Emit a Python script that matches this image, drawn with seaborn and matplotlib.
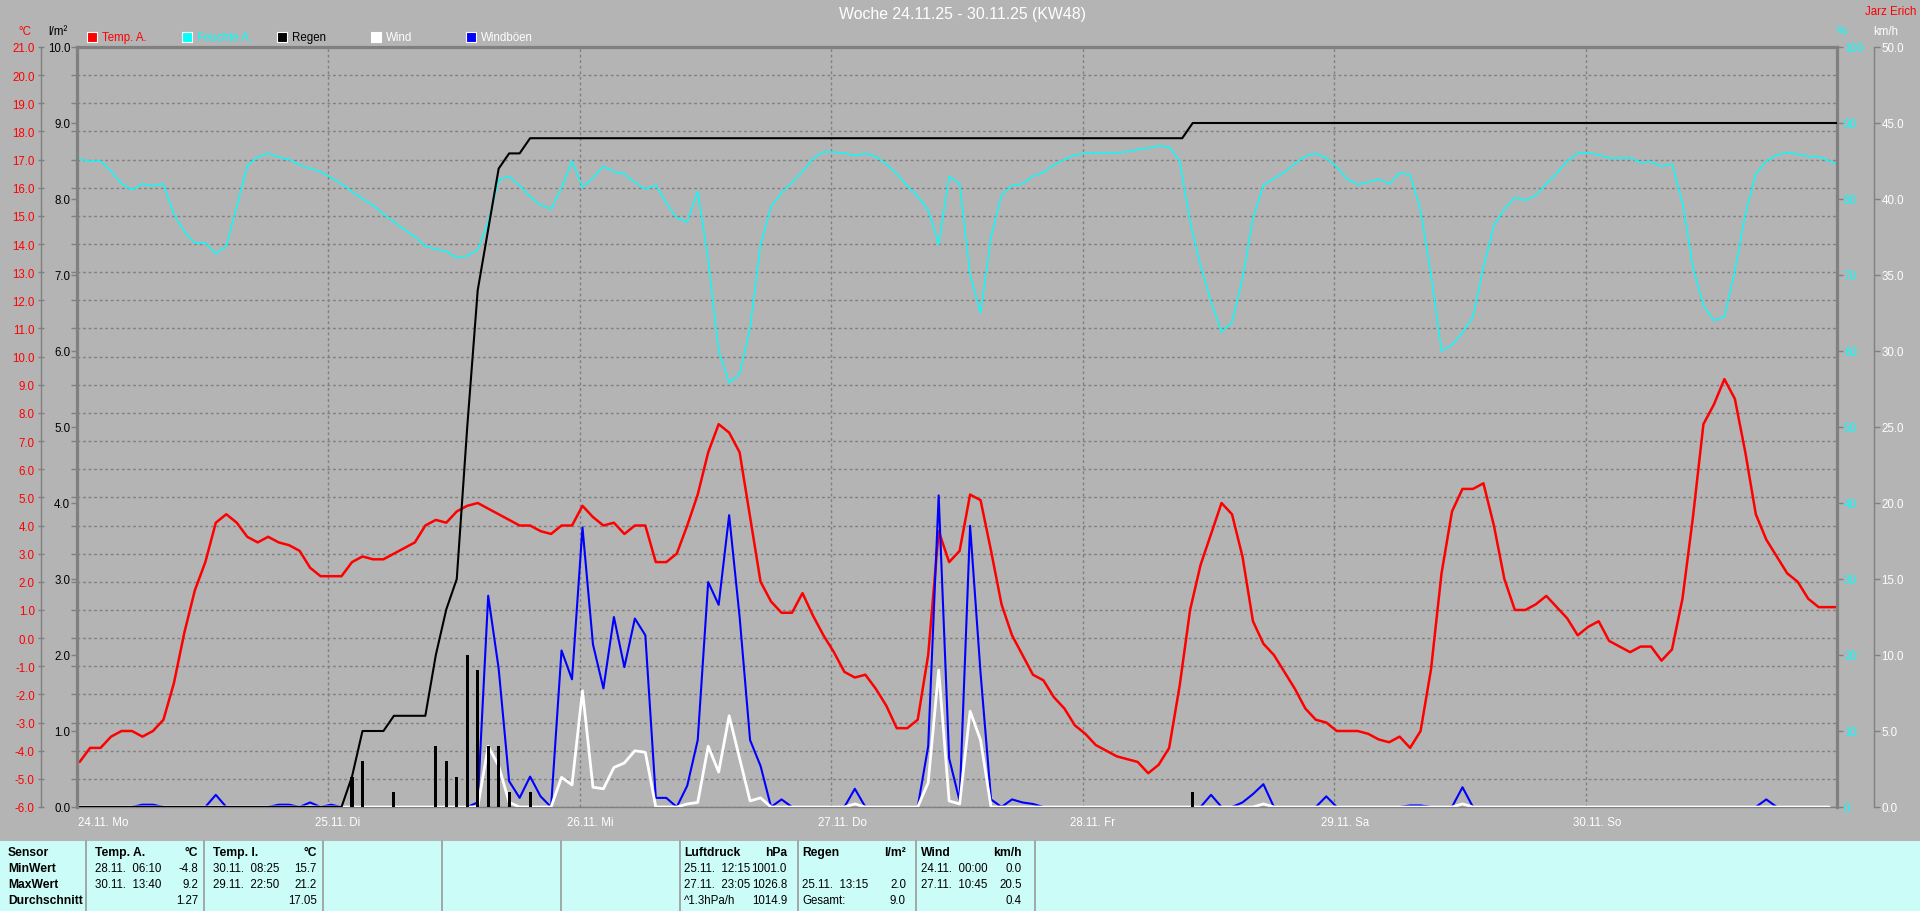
import numpy as np
import matplotlib
matplotlib.use("Agg")
import matplotlib.pyplot as plt
import matplotlib.transforms as mtransforms
from matplotlib.patches import Rectangle
from matplotlib.lines import Line2D
from matplotlib.ticker import MultipleLocator, FixedLocator, FuncFormatter
import seaborn as sns

# ---------------- data ----------------
TITLE = "Woche 24.11.25 - 30.11.25 (KW48)"
OWNER = "Jarz Erich"
DAY_LABELS = ["24.11. Mo", "25.11. Di", "26.11. Mi", "27.11. Do", "28.11. Fr", "29.11. Sa", "30.11. So"]
LEGEND_NAMES = ["Temp. A.", "Feuchte A.", "Regen", "Wind", "Windböen"]

# hourly values, first sample 24.11. 00:15
TEMP_A = [
    -4.4, -3.9, -3.9, -3.5, -3.3, -3.3, -3.5, -3.3, -2.9, -1.6, 0.2, 1.7, 2.7, 4.1, 4.4, 4.1, 3.6, 3.4, 3.6, 3.4, 3.3, 3.1, 2.5, 2.2,
    2.2, 2.2, 2.7, 2.9, 2.8, 2.8, 3.0, 3.2, 3.4, 4.0, 4.2, 4.1, 4.5, 4.7, 4.8, 4.6, 4.4, 4.2, 4.0, 4.0, 3.8, 3.7, 4.0, 4.0,
    4.7, 4.3, 4.0, 4.1, 3.7, 4.0, 4.0, 2.7, 2.7, 3.0, 4.0, 5.1, 6.6, 7.6, 7.3, 6.6, 4.3, 2.0, 1.3, 0.9, 0.9, 1.6, 0.8, 0.1,
    -0.5, -1.2, -1.4, -1.3, -1.8, -2.4, -3.2, -3.2, -2.9, -0.6, 3.8, 2.7, 3.1, 5.1, 4.9, 3.1, 1.2, 0.1, -0.6, -1.3, -1.5, -2.1, -2.5, -3.1,
    -3.4, -3.8, -4.0, -4.2, -4.3, -4.4, -4.8, -4.5, -3.9, -1.7, 1.0, 2.6, 3.7, 4.8, 4.4, 2.9, 0.6, -0.2, -0.6, -1.2, -1.8, -2.5, -2.9, -3.0,
    -3.3, -3.3, -3.3, -3.4, -3.6, -3.7, -3.5, -3.9, -3.3, -1.1, 2.3, 4.5, 5.3, 5.3, 5.5, 4.0, 2.1, 1.0, 1.0, 1.2, 1.5, 1.1, 0.7, 0.1,
    0.4, 0.6, -0.1, -0.3, -0.5, -0.3, -0.3, -0.8, -0.4, 1.4, 4.3, 7.6, 8.3, 9.2, 8.5, 6.6, 4.4, 3.5, 2.9, 2.3, 2.0, 1.4, 1.1, 1.1, 1.1,
]
HUMID_A = [
    85.2, 85.0, 85.0, 83.7, 82.0, 81.2, 82.0, 81.7, 82.0, 78.0, 75.7, 74.2, 74.2, 72.8, 73.8, 79.0, 84.4, 85.5, 86.0, 85.5, 85.2, 84.5, 84.0, 83.6,
    82.8, 82.0, 81.0, 80.0, 79.2, 78.0, 77.0, 76.0, 75.0, 73.8, 73.4, 73.1, 72.3, 72.5, 73.3, 77.0, 82.5, 83.0, 81.8, 80.3, 79.2, 78.7, 81.5, 85.0,
    81.5, 82.8, 84.3, 83.6, 83.3, 82.2, 81.3, 81.8, 79.5, 77.5, 77.0, 81.0, 72.0, 60.0, 55.8, 57.0, 63.0, 74.0, 79.0, 80.8, 82.2, 83.6, 85.3, 86.2,
    86.2, 86.0, 85.7, 86.0, 85.6, 84.6, 83.3, 81.7, 80.4, 78.5, 74.0, 83.0, 82.0, 70.0, 65.0, 75.0, 80.5, 81.8, 82.0, 83.0, 83.5, 84.5, 85.2, 85.8,
    86.0, 86.0, 86.0, 86.1, 86.2, 86.5, 86.7, 87.0, 86.9, 85.0, 77.0, 71.2, 66.5, 62.5, 63.8, 69.5, 77.5, 81.8, 82.7, 83.5, 84.7, 85.6, 86.0, 85.4,
    84.2, 82.6, 81.9, 82.2, 82.6, 82.0, 83.4, 83.2, 78.5, 70.0, 60.0, 60.8, 62.4, 64.5, 71.0, 76.5, 78.7, 80.2, 79.8, 80.5, 82.0, 83.4, 85.0, 86.0,
    86.1, 85.8, 85.4, 85.4, 85.4, 84.8, 84.9, 84.3, 84.6, 79.5, 71.0, 66.0, 64.0, 64.5, 70.5, 78.0, 83.3, 85.0, 85.8, 86.1, 85.9, 85.6, 85.6, 85.0, 84.5,
]
GUST = [
    0, 0, 0, 0, 0, 0, 0.15, 0.15, 0, 0, 0, 0, 0, 0.8, 0, 0, 0, 0, 0, 0.15, 0.15, 0, 0.3, 0,
    0.15, 0, 0, 0, 0, 0, 0, 0, 0, 0, 0, 0, 0, 0, 0.3, 13.9, 9.1, 1.7, 0.6, 2.0, 0.7, 0, 10.3, 8.4,
    18.4, 10.7, 7.8, 12.5, 9.2, 12.4, 11.3, 0.6, 0.6, 0, 1.4, 4.4, 14.8, 13.3, 19.2, 12.5, 4.4, 2.7, 0, 0.5, 0, 0, 0, 0,
    0, 0, 1.2, 0, 0, 0, 0, 0, 0, 4.0, 20.5, 3.2, 0.4, 18.5, 8.8, 0.5, 0, 0.5, 0.3, 0.2, 0, 0, 0, 0,
    0, 0, 0, 0, 0, 0, 0, 0, 0, 0, 0, 0, 0.8, 0, 0, 0.3, 0.85, 1.5, 0, 0, 0, 0, 0, 0.7,
    0, 0, 0, 0, 0, 0, 0, 0.1, 0.1, 0, 0, 0, 1.3, 0, 0, 0, 0, 0, 0, 0, 0, 0, 0, 0,
    0, 0, 0, 0, 0, 0, 0, 0, 0, 0, 0, 0, 0, 0, 0, 0, 0, 0.5, 0, 0, 0, 0, 0, 0,
]
WIND = [
    0, 0, 0, 0, 0, 0, 0, 0, 0, 0, 0, 0, 0, 0, 0, 0, 0, 0, 0, 0, 0, 0, 0, 0,
    0, 0, 0, 0, 0, 0, 0, 0, 0, 0, 0, 0, 0, 0, 0, 4.0, 2.7, 0.3, 0, 0, 0, 0, 1.95, 1.45,
    7.65, 1.3, 1.2, 2.6, 2.9, 3.7, 3.6, 0, 0, 0, 0.2, 0.3, 4.0, 2.3, 6.0, 3.2, 0.4, 0.6, 0, 0, 0, 0, 0, 0,
    0, 0, 0.2, 0, 0, 0, 0, 0, 0, 1.6, 9.0, 0.4, 0.2, 6.3, 4.4, 0, 0, 0, 0, 0, 0, 0, 0, 0,
    0, 0, 0, 0, 0, 0, 0, 0, 0, 0, 0, 0, 0, 0, 0, 0, 0, 0.2, 0, 0, 0, 0, 0, 0,
    0, 0, 0, 0, 0, 0, 0, 0, 0, 0, 0, 0, 0.2, 0, 0, 0, 0, 0, 0, 0, 0, 0, 0, 0,
    0, 0, 0, 0, 0, 0, 0, 0, 0, 0, 0, 0, 0, 0, 0, 0, 0, 0, 0, 0, 0, 0, 0, 0,
]
# rain per interval (l/m²) and cumulative rain, times in hours since 24.11. 00:00
RAIN_BAR_H = [26.25, 27.25, 30.25, 34.25, 35.25, 36.25, 37.25, 38.25, 39.25, 40.25, 41.25, 43.25, 106.5]
RAIN_BAR_V = [0.4, 0.6, 0.2, 0.8, 0.6, 0.4, 2.0, 1.8, 0.8, 0.8, 0.2, 0.2, 0.2]
RAIN_SUM_H = [0, 25.25, 26.25, 27.25, 29.25, 30.25, 33.25, 34.25, 35.25, 36.25, 37.25, 38.25, 39.25, 40.25,
              41.25, 42.25, 43.25, 105.5, 106.5, 168]
RAIN_SUM_V = [0, 0, 0.4, 1.0, 1.0, 1.2, 1.2, 2.0, 2.6, 3.0, 5.0, 6.8, 7.6, 8.4, 8.6, 8.6, 8.8, 8.8, 9.0, 9.0]

TABLE_ROWNAMES = ["Sensor", "MinWert", "MaxWert", "Durchschnitt"]
TABLE_COLS = [
    ("Temp. A.", "°C", [("28.11.  06:10", "-4.8"), ("30.11.  13:40", "9.2"), ("", "1.27")]),
    ("Temp. I.", "°C", [("30.11.  08:25", "15.7"), ("29.11.  22:50", "21.2"), ("", "17.05")]),
    ("Luftdruck", "hPa", [("25.11.  12:15", "1001.0"), ("27.11.  23:05", "1026.8"), ("^1.3hPa/h", "1014.9")]),
    ("Regen", "l/m²", [("", ""), ("25.11.  13:15", "2.0"), ("Gesamt:", "9.0")]),
    ("Wind", "km/h", [("24.11.  00:00", "0.0"), ("27.11.  10:45", "20.5"), ("", "0.4")]),
]

# ---------------- style ----------------
BG = "#B4B4B4"
AXC = "#808080"
CYAN_PANEL = "#CCFCF8"
C_TEMP, C_HUM, C_RAIN, C_WIND, C_GUST = "#FF0000", "#00FFFF", "#000000", "#FFFFFF", "#0000FF"

sns.set_theme(style="white", rc={"axes.facecolor": BG, "figure.facecolor": BG})
plt.rcParams["font.family"] = ["Liberation Sans", "DejaVu Sans"]
plt.rcParams["axes.unicode_minus"] = False

W, H = 1920, 912
fig = plt.figure(figsize=(W / 100, H / 100), dpi=100, facecolor=BG)

def fx(x):
    return x / W

def fy(y):
    return 1 - y / H

PT = 0.72  # points per pixel at 100 dpi
L, R, T, B = 77, 1837, 48, 808
ax = fig.add_axes([fx(L), fy(B), (R - L) / W, (B - T) / H])
ax.set_facecolor(BG)

t_hours = np.arange(len(TEMP_A)) + 0.25
h_hours = np.arange(len(HUMID_A)) + 0.25
w_hours = np.arange(len(WIND)) + 0.25
g_hours = np.arange(len(GUST)) + 0.25

fmt1 = FuncFormatter(lambda v, p: f"{v:.1f}")
fmt0 = FuncFormatter(lambda v, p: f"{v:.0f}")
TICK_FS = 8.3

# --- temperature (host) ---
sns.lineplot(x=t_hours, y=TEMP_A, ax=ax, color=C_TEMP, linewidth=1.8, estimator=None, legend=False)
ax.set_xlim(0, 168)
ax.set_ylim(-6, 21)
ax.set_xlabel("")
ax.set_ylabel("")
ax.xaxis.set_major_locator(MultipleLocator(24))
ax.tick_params(axis="x", length=0, labelbottom=False)
ax.yaxis.set_major_locator(MultipleLocator(1))
ax.yaxis.set_major_formatter(fmt1)
ax.tick_params(axis="y", which="major", direction="inout", length=5, width=1, color=AXC,
               labelcolor=C_TEMP, labelsize=TICK_FS, pad=2.0)
ax.grid(True, color=AXC, linestyle=(0, (2, 2)), linewidth=1)
ax.spines["left"].set_position(("outward", 36 * PT))
ax.spines["left"].set_color(AXC)
ax.spines["left"].set_linewidth(1)
ax.spines["top"].set_color(AXC)
ax.spines["top"].set_linewidth(2.3)
ax.spines["right"].set_visible(False)
ax.spines["bottom"].set_color(AXC)
ax.spines["bottom"].set_linewidth(1)

# --- humidity ---
axh = ax.twinx()
sns.lineplot(x=h_hours, y=HUMID_A, ax=axh, color=C_HUM, linewidth=1.0, estimator=None, legend=False)
axh.set_ylim(0, 100)
axh.set_ylabel("")
axh.yaxis.set_major_locator(MultipleLocator(10))
axh.yaxis.set_major_formatter(fmt0)
axh.tick_params(axis="y", direction="out", length=4, width=1, color=AXC, labelcolor=C_HUM,
                labelsize=TICK_FS, pad=1)
for s in ["left", "top", "bottom"]:
    axh.spines[s].set_visible(False)
axh.spines["right"].set_color(AXC)
axh.spines["right"].set_linewidth(2.3)

# --- wind / gusts ---
axw = ax.twinx()
sns.lineplot(x=g_hours, y=GUST, ax=axw, color=C_GUST, linewidth=1.5, estimator=None, legend=False)
sns.lineplot(x=w_hours, y=WIND, ax=axw, color=C_WIND, linewidth=2.0, estimator=None, legend=False)
axw.set_ylim(0, 50)
axw.set_ylabel("")
axw.yaxis.set_major_locator(MultipleLocator(5))
axw.yaxis.set_major_formatter(fmt1)
axw.tick_params(axis="y", direction="out", length=4.5, width=1, color=AXC, labelcolor="white",
                labelsize=TICK_FS, pad=1)
for s in ["left", "top", "bottom"]:
    axw.spines[s].set_visible(False)
axw.spines["right"].set_position(("outward", 37 * PT))
axw.spines["right"].set_color(AXC)
axw.spines["right"].set_linewidth(1)

# --- rain ---
axr = ax.twinx()
axr.bar(RAIN_BAR_H, RAIN_BAR_V, width=0.3, color=C_RAIN, edgecolor="none", linewidth=0, align="center", zorder=2)
sns.lineplot(x=RAIN_SUM_H, y=RAIN_SUM_V, ax=axr, color=C_RAIN, linewidth=1.5, estimator=None, legend=False)
axr.set_ylim(0, 10)
axr.set_ylabel("")
axr.yaxis.tick_left()
axr.yaxis.set_major_locator(MultipleLocator(1))
axr.yaxis.set_major_formatter(fmt1)
axr.yaxis.set_minor_locator(FixedLocator([(t + 6) / 27 * 10 for t in range(-6, 22)]))
axr.tick_params(axis="y", which="both", direction="out", length=4, width=1, color=AXC,
                labelcolor="black", labelsize=TICK_FS, pad=0.8)
for s in ["right", "top", "bottom"]:
    axr.spines[s].set_visible(False)
axr.spines["left"].set_visible(True)
axr.spines["left"].set_color(AXC)
axr.spines["left"].set_linewidth(2.3)

for a in (ax, axh, axr, axw):
    a.set_xlim(0, 168)

# --- day labels ---
blend = mtransforms.blended_transform_factory(ax.transData, fig.transFigure)
for i, lab in enumerate(DAY_LABELS):
    off = 0 if i == 0 else -13
    tr = mtransforms.offset_copy(blend, fig=fig, x=off, units="dots")
    ax.text(i * 24 + (0.1 if i == 0 else 0), fy(823), lab, transform=tr, ha="left", va="center",
            color="white", fontsize=TICK_FS, clip_on=False)

# --- header texts ---
fig.text(fx(962), fy(15), TITLE, ha="center", va="center", color="white", fontsize=11.4)
fig.text(fx(1916), fy(12), OWNER, ha="right", va="center", color=C_TEMP, fontsize=TICK_FS)
fig.text(fx(25), fy(32), "°C", ha="center", va="center", color=C_TEMP, fontsize=TICK_FS)
fig.text(fx(58), fy(32), "l/m²", ha="center", va="center", color="black", fontsize=TICK_FS)
fig.text(fx(1842), fy(32), "%", ha="center", va="center", color=C_HUM, fontsize=TICK_FS)
fig.text(fx(1886), fy(32), "km/h", ha="center", va="center", color="white", fontsize=TICK_FS)

# --- legend ---
leg_fill = [C_TEMP, C_HUM, C_RAIN, C_WIND, C_GUST]
leg_text = [C_TEMP, C_HUM, C_RAIN, C_WIND, C_WIND]
for i, name in enumerate(LEGEND_NAMES):
    x0 = 87 + 94.8 * i
    fig.patches.append(Rectangle((fx(x0), fy(43)), 10 / W, 10 / H, transform=fig.transFigure,
                                 facecolor=leg_fill[i], edgecolor="white", linewidth=0.8))
    fig.text(fx(x0 + 15), fy(38), name, ha="left", va="center", color=leg_text[i], fontsize=TICK_FS)

# --- statistics table ---
fig.patches.append(Rectangle((0, 0), 1, (H - 842) / H, transform=fig.transFigure,
                             facecolor=CYAN_PANEL, edgecolor="none"))
for xs in [86, 204, 323, 442, 561, 680, 798, 916, 1035]:
    fig.lines.append(Line2D([fx(xs), fx(xs)], [0, (H - 842) / H], transform=fig.transFigure,
                            color="#9A9A9A", linewidth=1.2))
row_y = [853, 869, 885, 901]
TFS = 8.3
for j, nm in enumerate(TABLE_ROWNAMES):
    fig.text(fx(8), fy(row_y[j]), nm, ha="left", va="center", color="black", fontsize=TFS + 0.4, fontweight="bold")
col_pos = [(95, 198), (213, 317), (684, 787), (802, 906), (921, 1022)]
for (hdr, unit, rows), (xl, xr) in zip(TABLE_COLS, col_pos):
    fig.text(fx(xl), fy(row_y[0]), hdr, ha="left", va="center", color="black", fontsize=TFS + 0.4, fontweight="bold")
    fig.text(fx(xr), fy(row_y[0]), unit, ha="right", va="center", color="black", fontsize=TFS + 0.4, fontweight="bold")
    for j, (lt, rt) in enumerate(rows):
        if lt:
            fig.text(fx(xl), fy(row_y[j + 1]), lt, ha="left", va="center", color="black", fontsize=TFS)
        if rt:
            fig.text(fx(xr), fy(row_y[j + 1]), rt, ha="right", va="center", color="black", fontsize=TFS)

fig.savefig("out.png", dpi=100, facecolor=BG)
